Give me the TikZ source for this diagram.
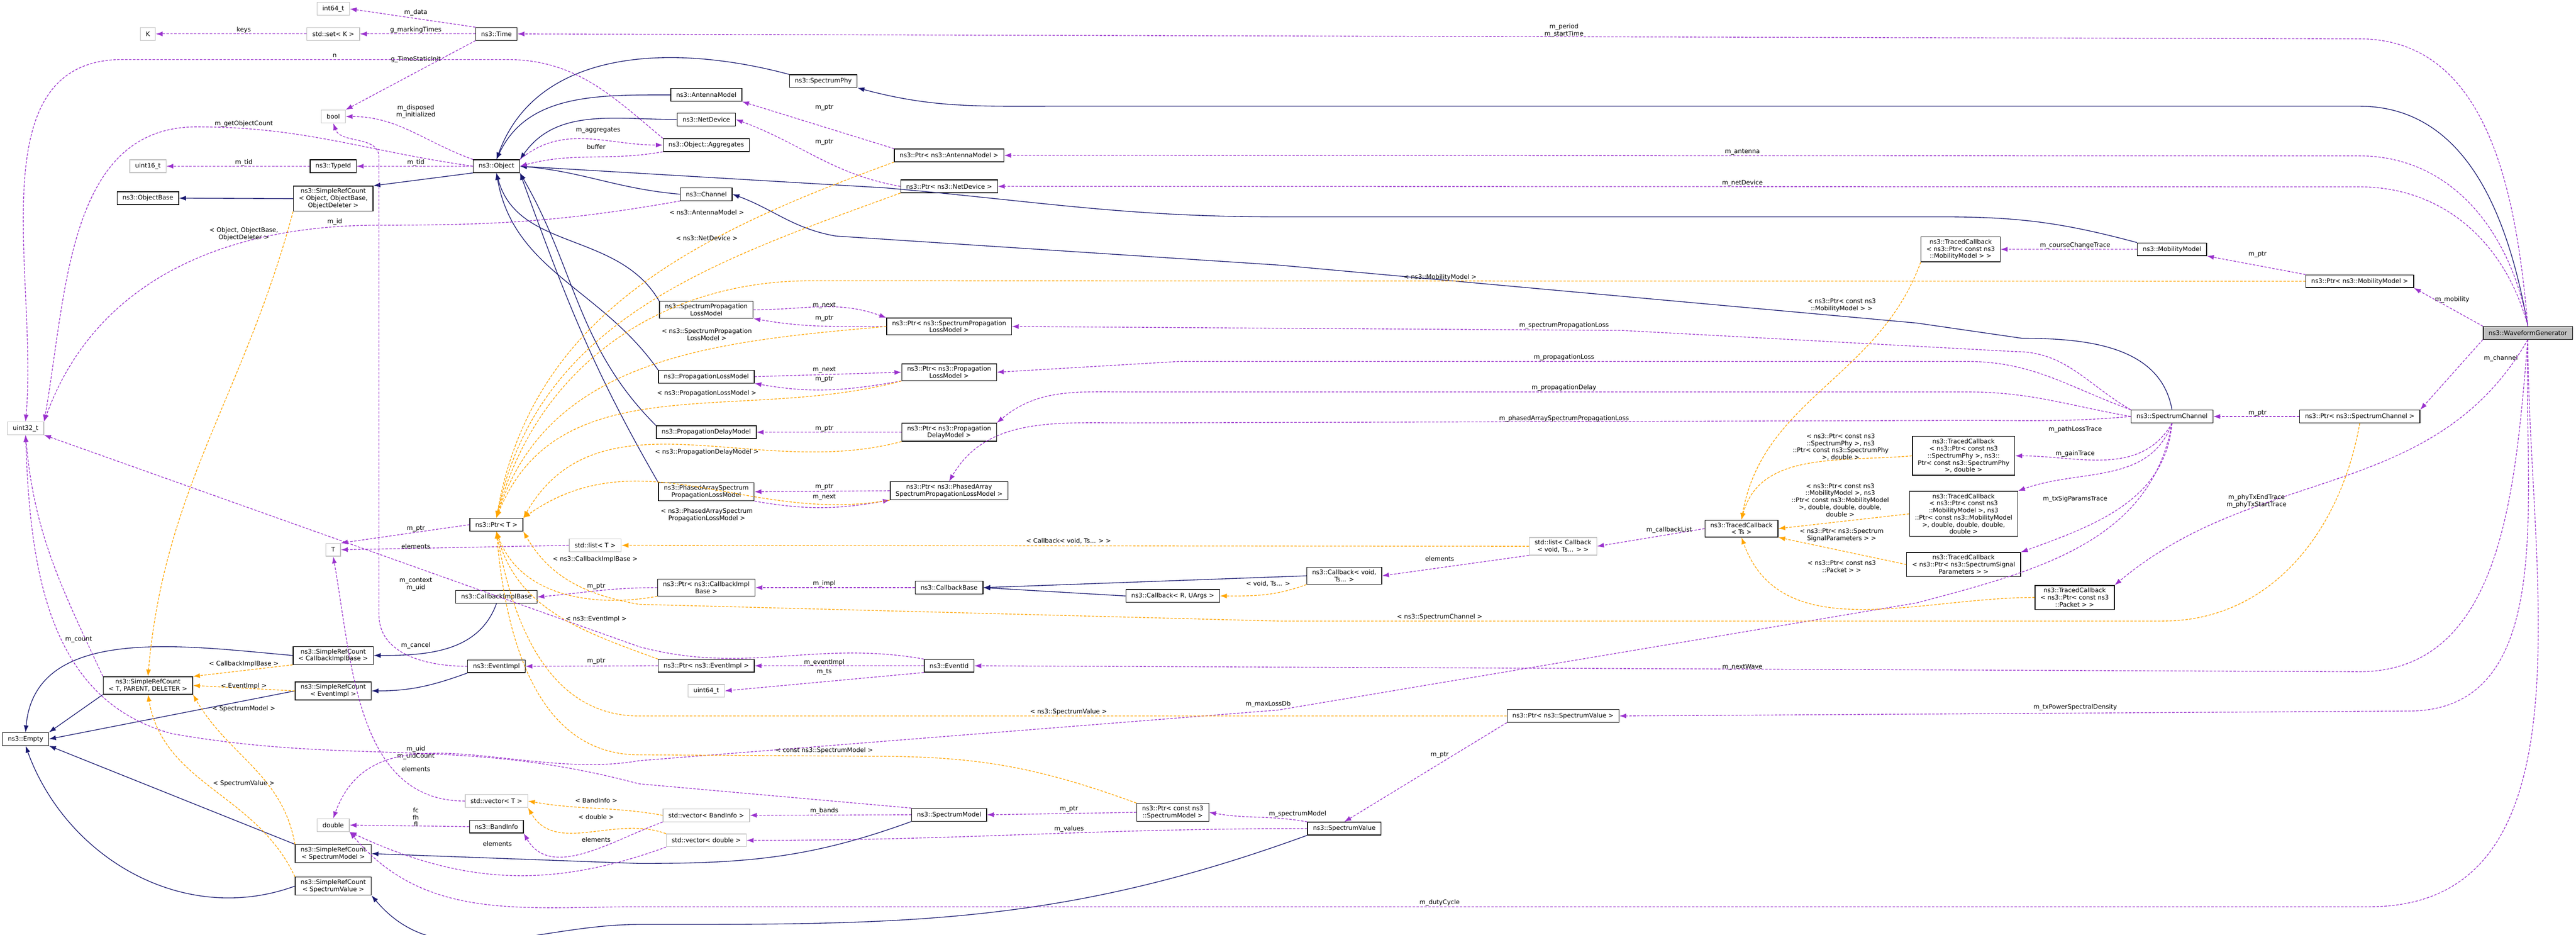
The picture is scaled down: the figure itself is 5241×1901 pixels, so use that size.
\documentclass[tikz,border=0pt]{standalone}
\usepackage{fontspec}
\setmainfont{DejaVu Sans}
\usetikzlibrary{arrows.meta}
\definecolor{inhcol}{HTML}{191970}
\definecolor{usecol}{HTML}{9A32CD}
\definecolor{tplcol}{HTML}{FFA500}
\definecolor{extcol}{HTML}{BFBFBF}
\tikzset{
  box/.style={draw, font=\fontsize{3.6}{4.1}\selectfont, align=center, inner xsep=0.11cm, inner ysep=0.05cm, minimum height=0.26cm, line width=0.4pt},
  cls/.style={box, draw=black},
  ext/.style={box, draw=extcol},
  gen/.style={box, draw=black, fill=extcol},
  lbl/.style={font=\fontsize{3.6}{4.1}\selectfont, align=center, inner sep=0pt},
  inh/.style={draw=inhcol, line width=0.4pt, -{Latex[length=0.14cm,width=0.1cm]}},
  use/.style={draw=usecol, line width=0.4pt, dash pattern=on 0.05cm off 0.03cm, -{Latex[length=0.14cm,width=0.1cm]}},
  tpl/.style={draw=tplcol, line width=0.4pt, dash pattern=on 0.05cm off 0.03cm, -{Latex[length=0.14cm,width=0.1cm]}}
}
\begin{document}
\begin{tikzpicture}[x=0.01cm, y=0.01cm]
  \useasboundingbox (0,0) rectangle (5241,-1901);

  % left columns
  \node[ext] (int64) at (678,-18) {int64\_t};
  \node[ext] (K) at (301,-69) {K};
  \node[ext] (setK) at (678,-69) {std::set< K >};
  \node[cls] (time) at (1010,-69) {ns3::Time};
  \node[ext] (bool) at (678,-237) {bool};
  \node[cls] (obj) at (1010,-338) {ns3::Object};
  \node[ext] (uint16) at (301,-338) {uint16\_t};
  \node[cls] (typeid) at (678,-338) {ns3::TypeId};
  \node[cls] (objbase) at (301,-403) {ns3::ObjectBase};
  \node[cls] (srcObj) at (678,-404) {ns3::SimpleRefCount\\< Object, ObjectBase,\\ObjectDeleter >};
  \node[ext] (uint32) at (52,-871) {uint32\_t};
  \node[cls] (ptrT) at (1010,-1067) {ns3::Ptr< T >};
  \node[ext] (T) at (678,-1118) {T};
  \node[ext] (listT) at (1211,-1109) {std::list< T >};
  \node[cls] (cib) at (1010,-1214) {ns3::CallbackImplBase};
  \node[cls] (srcCIB) at (678,-1333) {ns3::SimpleRefCount\\< CallbackImplBase >};
  \node[cls] (evImpl) at (1010,-1355) {ns3::EventImpl};
  \node[cls] (srcTPD) at (301,-1394) {ns3::SimpleRefCount\\< T, PARENT, DELETER >};
  \node[cls] (srcEI) at (678,-1405) {ns3::SimpleRefCount\\< EventImpl >};
  \node[cls] (empty) at (52,-1503) {ns3::Empty};
  \node[ext] (vecT) at (1010,-1629) {std::vector< T >};
  \node[ext] (double) at (678,-1678) {double};
  \node[cls] (band) at (1010,-1681) {ns3::BandInfo};
  \node[cls] (srcSM) at (678,-1736) {ns3::SimpleRefCount\\< SpectrumModel >};
  \node[cls] (srcSV) at (678,-1802) {ns3::SimpleRefCount\\< SpectrumValue >};

  % middle columns
  \node[cls] (sphy) at (1675,-165) {ns3::SpectrumPhy};
  \node[cls] (antenna) at (1437,-193) {ns3::AntennaModel};
  \node[cls] (netdev) at (1437,-243) {ns3::NetDevice};
  \node[cls] (agg) at (1437,-295) {ns3::Object::Aggregates};
  \node[cls] (ptrAM) at (1931,-316) {ns3::Ptr< ns3::AntennaModel >};
  \node[cls] (ptrND) at (1931,-379) {ns3::Ptr< ns3::NetDevice >};
  \node[cls] (channel) at (1437,-395) {ns3::Channel};
  \node[cls] (splm) at (1437,-630) {ns3::SpectrumPropagation\\LossModel};
  \node[cls] (ptrSPLM) at (1931,-664) {ns3::Ptr< ns3::SpectrumPropagation\\LossModel >};
  \node[cls] (plm) at (1437,-766) {ns3::PropagationLossModel};
  \node[cls] (ptrPLM) at (1931,-757) {ns3::Ptr< ns3::Propagation\\LossModel >};
  \node[cls] (pdm) at (1437,-879) {ns3::PropagationDelayModel};
  \node[cls] (ptrPDM) at (1931,-879) {ns3::Ptr< ns3::Propagation\\DelayModel >};
  \node[cls] (pa) at (1437,-1000) {ns3::PhasedArraySpectrum\\PropagationLossModel};
  \node[cls] (ptrPA) at (1931,-998) {ns3::Ptr< ns3::PhasedArray\\SpectrumPropagationLossModel >};
  \node[cls] (ptrCIB) at (1437,-1195) {ns3::Ptr< ns3::CallbackImpl\\Base >};
  \node[cls] (cbBase) at (1931,-1195) {ns3::CallbackBase};
  \node[cls] (cbRU) at (2386,-1212) {ns3::Callback< R, UArgs >};
  \node[cls] (ptrEI) at (1437,-1354) {ns3::Ptr< ns3::EventImpl >};
  \node[cls] (evId) at (1931,-1354) {ns3::EventId};
  \node[ext] (uint64) at (1437,-1405) {uint64\_t};
  \node[ext] (vecBI) at (1437,-1658) {std::vector< BandInfo >};
  \node[cls] (sm) at (1931,-1657) {ns3::SpectrumModel};
  \node[cls] (ptrCSM) at (2386,-1652) {ns3::Ptr< const ns3\\::SpectrumModel >};
  \node[ext] (vecD) at (1437,-1709) {std::vector< double >};

  % right columns
  \node[cls] (tcTs) at (3543,-1075) {ns3::TracedCallback\\< Ts >};
  \node[ext] (listCb) at (3180,-1111) {std::list< Callback\\< void, Ts... > >};
  \node[cls] (cbVoid) at (2735,-1171) {ns3::Callback< void,\\Ts... >};
  \node[cls] (ptrSV) at (3180,-1456) {ns3::Ptr< ns3::SpectrumValue >};
  \node[cls] (sv) at (2735,-1685) {ns3::SpectrumValue};
  \node[cls] (tcMob) at (3989,-507) {ns3::TracedCallback\\< ns3::Ptr< const ns3\\::MobilityModel > >};
  \node[cls] (mob) at (4419,-507) {ns3::MobilityModel};
  \node[cls] (ptrMob) at (4801,-572) {ns3::Ptr< ns3::MobilityModel >};
  \node[gen] (wg) at (5143,-677) {ns3::WaveformGenerator};
  \node[cls] (sc) at (4419,-847) {ns3::SpectrumChannel};
  \node[cls] (ptrSC) at (4801,-847) {ns3::Ptr< ns3::SpectrumChannel >};
  \node[cls] (tcPhy) at (3995,-927) {ns3::TracedCallback\\< ns3::Ptr< const ns3\\::SpectrumPhy >, ns3::\\Ptr< const ns3::SpectrumPhy\\>, double >};
  \node[cls] (tcMob6) at (3995,-1045) {ns3::TracedCallback\\< ns3::Ptr< const ns3\\::MobilityModel >, ns3\\::Ptr< const ns3::MobilityModel\\>, double, double, double,\\double >};
  \node[cls] (tcSig) at (3995,-1148) {ns3::TracedCallback\\< ns3::Ptr< ns3::SpectrumSignal\\Parameters > >};
  \node[cls] (tcPkt) at (4221,-1215) {ns3::TracedCallback\\< ns3::Ptr< const ns3\\::Packet > >};

  % inheritance
  \draw[inh] (srcObj.west) -- (objbase.east);
  \draw[inh] (obj.south west) -- (srcObj.north east);
  \draw[inh] (sphy.north west) to[out=165,in=70] (obj.north);
  \draw[inh] (antenna.west) to[out=180,in=65] (obj.north);
  \draw[inh] (netdev.west) to[out=180,in=55] (obj.north east);
  \draw[inh] (channel.west) to[out=175,in=-5] (obj.east);
  \draw[inh] (splm.north west) to[out=120,in=-75] (obj.south);
  \draw[inh] (plm.north west) to[out=125,in=-80] (obj.south);
  \draw[inh] (pdm.north west) to[out=135,in=-60] (obj.south east);
  \draw[inh] (pa.north west) to[out=120,in=-70] (obj.south east);
  \draw[inh] (mob.north west) to[out=165,in=0] (3950,-441) -- (2600,-441) to[out=180,in=-5] (1800,-382) -- (obj.east);
  \draw[inh] (sc.north) to[out=100,in=0] (4114,-688) -- (3900,-657) -- (2600,-539) -- (1700,-480) to[out=170,in=-20] (channel.east);
  \draw[inh] (wg.north) to[out=100,in=0] (4800,-216) -- (2150,-216) to[out=180,in=-15] (sphy.south east);
  \draw[inh] (srcCIB.west) to[out=175,in=85] (empty.north);
  \draw[inh] (cib.south) to[out=-110,in=0] (srcCIB.east);
  \draw[inh] (srcTPD.south west) -- (empty.north east);
  \draw[inh] (srcEI.west) -- (empty.east);
  \draw[inh] (evImpl.south west) to[out=200,in=0] (srcEI.east);
  \draw[inh] (srcSM.north west) -- (empty.south east);
  \draw[inh] (srcSV.west) to[out=200,in=-70] (empty.south);
  \draw[inh] (sm.south west) to[out=200,in=0] (1300,-1756) -- (srcSM.east);
  \draw[inh] (sv.south west) to[out=200,in=0] (1300,-1880) to[out=180,in=-50] (srcSV.south east);
  \draw[inh] (cbVoid.west) -- (cbBase.east);
  \draw[inh] (cbRU.west) -- (cbBase.east);

  % usage
  \draw[use] (time.north west) -- (int64.east);
  \node[lbl] (l01) at (846,-25) {m\_data};
  \draw[use] (time.west) -- (setK.east);
  \node[lbl] (l02) at (846,-61) {g\_markingTimes};
  \draw[use] (setK.west) -- (K.east);
  \node[lbl] (l03) at (496,-61) {keys};
  \draw[use] (time.south west) -- (bool.north east);
  \node[lbl] (l04) at (846,-121) {g\_TimeStaticInit};
  \draw[use] (agg.north west) to[out=140,in=0] (1030,-121) -- (250,-121) to[out=180,in=85] (uint32.north);
  \node[lbl] (l05) at (681,-113) {n};
  \draw[use] (obj.north west) to[out=160,in=0] (bool.east);
  \node[lbl] (l06) at (846,-227) {m\_disposed\\m\_initialized};
  \draw[use] (obj.west) to[out=172,in=0] (400,-258) to[out=180,in=80] (uint32.north east);
  \node[lbl] (l07) at (496,-252) {m\_getObjectCount};
  \draw[use] (typeid.west) -- (uint16.east);
  \node[lbl] (l08) at (496,-331) {m\_tid};
  \draw[use] (obj.west) -- (typeid.east);
  \node[lbl] (l09) at (846,-331) {m\_tid};
  \draw[use] (obj.north east) to[out=40,in=180] (agg.west);
  \node[lbl] (l10) at (1217,-265) {m\_aggregates};
  \draw[use] (agg.south west) to[out=190,in=15] (obj.east);
  \node[lbl] (l11) at (1213,-299) {buffer};
  \draw[use] (channel.south west) to[out=190,in=0] (770,-458) to[out=180,in=70] (uint32.north east);
  \node[lbl] (l12) at (681,-451) {m\_id};
  \draw[use] (srcTPD.north west) to[out=115,in=-85] (uint32.south);
  \node[lbl] (l13) at (160,-1300) {m\_count};
  \draw[use] (ptrT.west) -- (T.north east);
  \node[lbl] (l14) at (846,-1075) {m\_ptr};
  \draw[use] (listT.west) -- (T.east);
  \node[lbl] (l15) at (846,-1111) {elements};
  \draw[use] (evImpl.west) to[out=180,in=-90] (771,-1250) -- (771,-320) to[out=90,in=-70] (bool.south);
  \node[lbl] (l16) at (846,-1313) {m\_cancel};
  \draw[use] (evId.north west) to[out=170,in=-15] (1300,-1315) -- (uint32.south east);
  \node[lbl] (l17) at (846,-1188) {m\_context\\m\_uid};
  \draw[use] (sm.north west) -- (1300,-1594) to[out=165,in=-10] (350,-1492) to[out=165,in=-88] (uint32.south);
  \node[lbl] (l18) at (846,-1531) {m\_uid\\m\_uidCount};
  \draw[use] (vecT.west) to[out=180,in=-80] (T.south);
  \node[lbl] (l19) at (846,-1564) {elements};
  \draw[use] (band.west) -- (double.east);
  \node[lbl] (l20) at (846,-1662) {fc\\fh\\fl};
  \draw[use] (vecBI.south west) to[out=200,in=-60] (band.south east);
  \node[lbl] (l21) at (1213,-1708) {elements};
  \draw[use] (vecD.south west) to[out=200,in=-25] (double.south east);
  \node[lbl] (l22) at (1012,-1716) {elements};
  \draw[use] (ptrAM.north west) -- (antenna.south east);
  \node[lbl] (l23) at (1677,-219) {m\_ptr};
  \draw[use] (ptrND.west) to[out=170,in=-20] (netdev.east);
  \node[lbl] (l24) at (1677,-289) {m\_ptr};
  \draw[use] (splm.east) to[out=0,in=160] (ptrSPLM.north west);
  \node[lbl] (l25) at (1677,-621) {m\_next};
  \draw[use] (ptrSPLM.west) to[out=180,in=-10] (splm.south east);
  \node[lbl] (l26) at (1677,-647) {m\_ptr};
  \draw[use] (plm.east) -- (ptrPLM.west);
  \node[lbl] (l27) at (1677,-752) {m\_next};
  \draw[use] (ptrPLM.south west) to[out=190,in=-10] (plm.south east);
  \node[lbl] (l28) at (1677,-771) {m\_ptr};
  \draw[use] (ptrPDM.west) -- (pdm.east);
  \node[lbl] (l29) at (1677,-872) {m\_ptr};
  \draw[use] (ptrPA.west) -- (pa.east);
  \node[lbl] (l30) at (1677,-990) {m\_ptr};
  \draw[use] (pa.south east) to[out=-10,in=190] (ptrPA.south west);
  \node[lbl] (l31) at (1677,-1011) {m\_next};
  \draw[use] (cbBase.west) -- (ptrCIB.east);
  \node[lbl] (l32) at (1677,-1187) {m\_impl};
  \draw[use] (ptrCIB.west) to[out=180,in=5] (cib.east);
  \node[lbl] (l33) at (1213,-1193) {m\_ptr};
  \draw[use] (evId.west) -- (ptrEI.east);
  \node[lbl] (l34) at (1677,-1347) {m\_eventImpl};
  \draw[use] (evId.south west) -- (uint64.east);
  \node[lbl] (l35) at (1677,-1367) {m\_ts};
  \draw[use] (ptrEI.west) -- (evImpl.east);
  \node[lbl] (l36) at (1213,-1345) {m\_ptr};
  \draw[use] (sm.west) -- (vecBI.east);
  \node[lbl] (l37) at (1677,-1649) {m\_bands};
  \draw[use] (ptrCSM.west) -- (sm.east);
  \node[lbl] (l38) at (2175,-1645) {m\_ptr};
  \draw[use] (sv.north west) to[out=170,in=-10] (ptrCSM.east);
  \node[lbl] (l39) at (2640,-1655) {m\_spectrumModel};
  \draw[use] (sv.west) to[out=180,in=0] (vecD.east);
  \node[lbl] (l40) at (2175,-1686) {m\_values};
  \draw[use] (ptrSV.south west) -- (sv.north);
  \node[lbl] (l41) at (2929,-1535) {m\_ptr};
  \draw[use] (listCb.south west) -- (cbVoid.east);
  \node[lbl] (l42) at (2929,-1136) {elements};
  \draw[use] (tcTs.west) -- (listCb.east);
  \node[lbl] (l43) at (3396,-1078) {m\_callbackList};
  \draw[use] (mob.west) -- (tcMob.east);
  \node[lbl] (l44) at (4222,-499) {m\_courseChangeTrace};
  \draw[use] (ptrMob.north west) -- (mob.south east);
  \node[lbl] (l45) at (4593,-517) {m\_ptr};
  \draw[use] (ptrSC.west) -- (sc.east);
  \node[lbl] (l46) at (4593,-840) {m\_ptr};
  \draw[use] (sc.south) to[out=-120,in=0] (tcPhy.east);
  \node[lbl] (l47) at (4222,-873) {m\_pathLossTrace};
  \draw[use] (sc.south) to[out=-110,in=20] (tcMob6.north east);
  \node[lbl] (l48) at (4222,-923) {m\_gainTrace};
  \draw[use] (sc.south) to[out=-95,in=20] (tcSig.north east);
  \node[lbl] (l49) at (4222,-1015) {m\_txSigParamsTrace};
  \draw[use] (sc.north west) to[out=150,in=0] (4100,-715) -- (3300,-672) -- (ptrSPLM.east);
  \node[lbl] (l50) at (3182,-662) {m\_spectrumPropagationLoss};
  \draw[use] (sc.north west) to[out=160,in=0] (4000,-735) -- (2400,-735) -- (ptrPLM.east);
  \node[lbl] (l51) at (3182,-727) {m\_propagationLoss};
  \draw[use] (sc.west) to[out=170,in=0] (4000,-797) -- (2300,-797) to[out=180,in=40] (ptrPDM.north east);
  \node[lbl] (l52) at (3182,-789) {m\_propagationDelay};
  \draw[use] (sc.west) to[out=185,in=0] (4000,-855) -- (2300,-860) to[out=180,in=60] (ptrPA.north);
  \node[lbl] (l53) at (3182,-851) {m\_phasedArraySpectrumPropagationLoss};
  \draw[use] (sc.south) to[out=-100,in=15] (3900,-1226) -- (2600,-1444) -- (1300,-1547) to[out=190,in=70] (double.north);
  \node[lbl] (l54) at (2580,-1432) {m\_maxLossDb};
  \draw[use] (wg.north) to[out=95,in=0] (4800,-79) -- (time.east);
  \node[lbl] (l55) at (3182,-62) {m\_period\\m\_startTime};
  \draw[use] (wg.north) to[out=100,in=0] (4800,-317) -- (ptrAM.east);
  \node[lbl] (l56) at (3545,-309) {m\_antenna};
  \draw[use] (wg.north) to[out=105,in=0] (4800,-380) -- (ptrND.east);
  \node[lbl] (l57) at (3545,-372) {m\_netDevice};
  \draw[use] (wg.north west) -- (ptrMob.south east);
  \node[lbl] (l58) at (4989,-609) {m\_mobility};
  \draw[use] (wg.south west) -- (ptrSC.north east);
  \node[lbl] (l59) at (5088,-729) {m\_channel};
  \draw[use] (wg.south) to[out=-120,in=40] (tcPkt.north east);
  \node[lbl] (l60) at (4591,-1019) {m\_phyTxEndTrace\\m\_phyTxStartTrace};
  \draw[use] (wg.south) to[out=-95,in=0] (4800,-1366) -- (evId.east);
  \node[lbl] (l61) at (3545,-1357) {m\_nextWave};
  \draw[use] (wg.south) to[out=-92,in=0] (4900,-1446) -- (ptrSV.east);
  \node[lbl] (l62) at (4222,-1438) {m\_txPowerSpectralDensity};
  \draw[use] (wg.south) to[out=-90,in=0] (4820,-1844) -- (1300,-1844) to[out=180,in=-50] (double.south east);
  \node[lbl] (l63) at (2929,-1836) {m\_dutyCycle};

  % template instances
  \draw[tpl] (srcObj.south west) to[out=-105,in=85] (srcTPD.north);
  \node[lbl] (l64) at (496,-476) {< Object, ObjectBase,\\ObjectDeleter >};
  \draw[tpl] (srcCIB.south west) -- (srcTPD.north east);
  \node[lbl] (l65) at (496,-1350) {< CallbackImplBase >};
  \draw[tpl] (srcEI.west) -- (srcTPD.east);
  \node[lbl] (l66) at (496,-1395) {< EventImpl >};
  \draw[tpl] (srcSM.north west) to[out=100,in=-60] (srcTPD.south east);
  \node[lbl] (l67) at (496,-1441) {< SpectrumModel >};
  \draw[tpl] (srcSV.north west) to[out=115,in=-80] (srcTPD.south);
  \node[lbl] (l68) at (496,-1593) {< SpectrumValue >};
  \draw[tpl] (ptrAM.south west) to[out=200,in=80] (ptrT.north);
  \node[lbl] (l69) at (1438,-432) {< ns3::AntennaModel >};
  \draw[tpl] (ptrND.south west) to[out=200,in=78] (ptrT.north);
  \node[lbl] (l70) at (1438,-484) {< ns3::NetDevice >};
  \draw[tpl] (ptrMob.west) -- (1650,-571) to[out=180,in=75] (ptrT.north);
  \node[lbl] (l71) at (2930,-564) {< ns3::MobilityModel >};
  \draw[tpl] (ptrSPLM.west) to[out=185,in=72] (ptrT.north);
  \node[lbl] (l72) at (1438,-680) {< ns3::SpectrumPropagation\\LossModel >};
  \draw[tpl] (ptrPLM.south west) to[out=195,in=68] (ptrT.north);
  \node[lbl] (l73) at (1438,-800) {< ns3::PropagationLossModel >};
  \draw[tpl] (ptrPDM.south west) to[out=195,in=60] (ptrT.north east);
  \node[lbl] (l74) at (1438,-919) {< ns3::PropagationDelayModel >};
  \draw[tpl] (ptrPA.south west) to[out=190,in=35] (ptrT.north east);
  \node[lbl] (l75) at (1438,-1047) {< ns3::PhasedArraySpectrum\\PropagationLossModel >};
  \draw[tpl] (listCb.west) -- (listT.east);
  \node[lbl] (l76) at (2174,-1100) {< Callback< void, Ts... > >};
  \draw[tpl] (ptrCIB.south west) to[out=190,in=-70] (ptrT.south);
  \node[lbl] (l77) at (1211,-1137) {< ns3::CallbackImplBase >};
  \draw[tpl] (ptrEI.north west) to[out=160,in=-75] (ptrT.south);
  \node[lbl] (l78) at (1213,-1259) {< ns3::EventImpl >};
  \draw[tpl] (ptrSC.south) to[out=-100,in=0] (4400,-1263) -- (2600,-1263) -- (1300,-1229) to[out=170,in=-60] (ptrT.south east);
  \node[lbl] (l79) at (2929,-1255) {< ns3::SpectrumChannel >};
  \draw[tpl] (ptrSV.west) -- (1300,-1456) to[out=180,in=-80] (ptrT.south);
  \node[lbl] (l80) at (2174,-1448) {< ns3::SpectrumValue >};
  \draw[tpl] (ptrCSM.north west) to[out=160,in=0] (1780,-1538) -- (1300,-1535) to[out=180,in=-85] (ptrT.south);
  \node[lbl] (l81) at (1677,-1526) {< const ns3::SpectrumModel >};
  \draw[tpl] (cbVoid.south west) to[out=200,in=0] (cbRU.east);
  \node[lbl] (l82) at (2580,-1187) {< void, Ts... >};
  \draw[tpl] (vecBI.west) to[out=170,in=-10] (vecT.east);
  \node[lbl] (l83) at (1213,-1628) {< BandInfo >};
  \draw[tpl] (vecD.north west) to[out=160,in=-60] (vecT.south east);
  \node[lbl] (l84) at (1213,-1661) {< double >};
  \draw[tpl] (tcMob.south west) to[out=-110,in=80] (tcTs.north);
  \node[lbl] (l85) at (3747,-621) {< ns3::Ptr< const ns3\\::MobilityModel > >};
  \draw[tpl] (tcPhy.west) to[out=185,in=75] (tcTs.north);
  \node[lbl] (l86) at (3745,-909) {< ns3::Ptr< const ns3\\::SpectrumPhy >, ns3\\::Ptr< const ns3::SpectrumPhy\\>, double >};
  \draw[tpl] (tcMob6.west) -- (tcTs.east);
  \node[lbl] (l87) at (3744,-1017) {< ns3::Ptr< const ns3\\::MobilityModel >, ns3\\::Ptr< const ns3::MobilityModel\\>, double, double, double,\\double >};
  \draw[tpl] (tcSig.west) -- (tcTs.south east);
  \node[lbl] (l88) at (3747,-1088) {< ns3::Ptr< ns3::Spectrum\\SignalParameters > >};
  \draw[tpl] (tcPkt.west) to[out=180,in=-70] (tcTs.south);
  \node[lbl] (l89) at (3747,-1152) {< ns3::Ptr< const ns3\\::Packet > >};
\end{tikzpicture}
\end{document}
